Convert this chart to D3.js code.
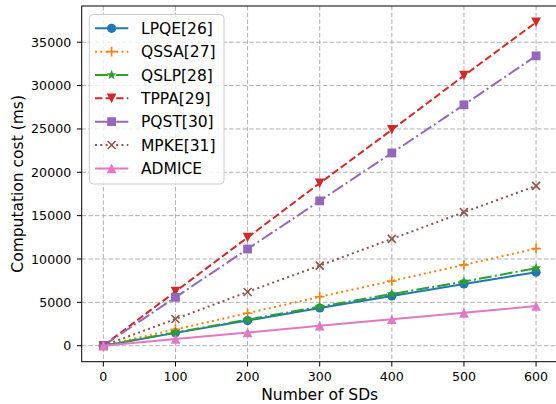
<!DOCTYPE html>
<html><head><meta charset="utf-8">
<script src="https://cdn.jsdelivr.net/npm/d3@7"></script>
<style>body{margin:0;background:#fff}svg{display:block;font-family:"DejaVu Sans",sans-serif}</style>
</head><body><svg id="c" width="556" height="404"></svg>
<script>
const xs = [0, 100, 200, 300, 400, 500, 600];
const xTicks = [0, 100, 200, 300, 400, 500, 600];
const yTicks = [0, 5000, 10000, 15000, 20000, 25000, 30000, 35000];
const names = ["LPQE[26]", "QSSA[27]", "QSLP[28]", "TPPA[29]", "PQST[30]", "MPKE[31]", "ADMICE"];
const LPQE = [0, 1480, 2900, 4350, 5730, 7120, 8480];
const QSSA = [0, 1880, 3750, 5640, 7470, 9320, 11200];
const QSLP = [0, 1530, 3000, 4500, 5960, 7400, 8940];
const TPPA = [0, 6250, 12480, 18740, 24900, 31150, 37300];
const PQST = [0, 5580, 11150, 16700, 22230, 27780, 33430];
const MPKE = [0, 3080, 6200, 9240, 12320, 15400, 18430];
const ADMICE = [0, 770, 1520, 2310, 3050, 3790, 4580];
const colors = ["#1f77b4", "#ff7f0e", "#2ca02c", "#d62728", "#9467bd", "#8c564b", "#e377c2"];
const dashes = [null, "2,3.3", "12.8,3.2,2,3.2", "7.4,3.2", "12.8,3.2,2,3.2", "2,3.3", null];
const markers = ["circle", "plus", "star", "tridown", "square", "cross", "triup"];
const series = [LPQE, QSSA, QSLP, TPPA, PQST, MPKE, ADMICE];

const svg = d3.select("#c");
const L = 81.7, R = 557.7, T = 6, B = 361.7;
const x = d3.scaleLinear().domain([-30, 630]).range([L, R]);
const y = d3.scaleLinear().domain([-1845, 39180]).range([B, T]);

// grid
const g = svg.append("g");
g.selectAll(".gx").data(xTicks).join("line")
  .attr("x1", d => x(d)).attr("x2", d => x(d)).attr("y1", T).attr("y2", B)
  .attr("stroke", "#b0b0b0").attr("stroke-width", 1).attr("stroke-dasharray", "4.5,2.2");
g.selectAll(".gy").data(yTicks).join("line")
  .attr("y1", d => y(d)).attr("y2", d => y(d)).attr("x1", L).attr("x2", R)
  .attr("stroke", "#b0b0b0").attr("stroke-width", 1).attr("stroke-dasharray", "4.5,2.2");

function marker(sel, type, color) {
  const s = 4.8;
  if (type === "circle") sel.append("circle").attr("r", 4.6).attr("fill", color);
  else if (type === "square") sel.append("rect").attr("x", -4.4).attr("y", -4.4).attr("width", 8.8).attr("height", 8.8).attr("fill", color);
  else if (type === "tridown") sel.append("path").attr("d", `M${-s},${-s}L${s},${-s}L0,${s}Z`).attr("fill", color);
  else if (type === "triup") sel.append("path").attr("d", `M${-s},${s}L${s},${s}L0,${-s}Z`).attr("fill", color);
  else if (type === "plus") sel.append("path").attr("d", `M${-s},0L${s},0M0,${-s}L0,${s}`).attr("stroke", color).attr("stroke-width", 1.6);
  else if (type === "cross") sel.append("path").attr("d", `M${-4},${-4}L${4},${4}M${-4},${4}L${4},${-4}`).attr("stroke", color).attr("stroke-width", 1.6);
  else if (type === "star") {
    const pts = [];
    for (let i = 0; i < 10; i++) {
      const r = i % 2 ? 2.3 : 5.2, a = -Math.PI / 2 + i * Math.PI / 5;
      pts.push([r * Math.cos(a), r * Math.sin(a)]);
    }
    sel.append("path").attr("d", "M" + pts.map(p => p.join(",")).join("L") + "Z").attr("fill", color);
  }
}

const line = d3.line().x((d, i) => x(xs[i])).y(d => y(d));
series.forEach((vals, k) => {
  const sg = svg.append("g");
  const p = sg.append("path").datum(vals).attr("d", line).attr("fill", "none")
    .attr("stroke", colors[k]).attr("stroke-width", 2);
  if (dashes[k]) p.attr("stroke-dasharray", dashes[k]);
  vals.forEach((v, i) => {
    const m = sg.append("g").attr("transform", `translate(${x(xs[i])},${y(v)})`);
    marker(m, markers[k], colors[k]);
  });
});

// spines
svg.append("rect").attr("x", L).attr("y", T).attr("width", R - L).attr("height", B - T)
  .attr("fill", "none").attr("stroke", "#000").attr("stroke-width", 1);

// axes ticks
const xa = svg.append("g");
xTicks.forEach(t => {
  xa.append("line").attr("x1", x(t)).attr("x2", x(t)).attr("y1", B).attr("y2", B + 4.8).attr("stroke", "#000");
  xa.append("text").attr("x", x(t)).attr("y", B + 19.2).attr("text-anchor", "middle").attr("font-size", 12.6).text(t);
});
yTicks.forEach(t => {
  xa.append("line").attr("x1", L).attr("x2", L - 4.8).attr("y1", y(t)).attr("y2", y(t)).attr("stroke", "#000");
  xa.append("text").attr("x", L - 10.5).attr("y", y(t)).attr("dy", "0.36em").attr("text-anchor", "end").attr("font-size", 12.6).text(t);
});
svg.append("text").attr("x", (L + R) / 2).attr("y", 399.5).attr("text-anchor", "middle").attr("font-size", 15.5).text("Number of SDs");
svg.append("text").attr("transform", `translate(23,${(T + B) / 2}) rotate(-90)`).attr("text-anchor", "middle").attr("font-size", 15.5).text("Computation cost (ms)");

// legend
const lg = svg.append("g");
lg.append("rect").attr("x", 89.3).attr("y", 14.5).attr("width", 134.7).attr("height", 169.5).attr("rx", 4)
  .attr("fill", "#fff").attr("fill-opacity", 0.8).attr("stroke", "#cccccc").attr("stroke-width", 1);
names.forEach((n, k) => {
  const yy = 28.3 + k * 23.35;
  const e = lg.append("g");
  const l = e.append("line").attr("x1", 95).attr("x2", 128.3).attr("y1", yy).attr("y2", yy).attr("stroke", colors[k]).attr("stroke-width", 2);
  if (dashes[k]) l.attr("stroke-dasharray", dashes[k]);
  const m = e.append("g").attr("transform", `translate(111.6,${yy})`);
  marker(m, markers[k], colors[k]);
  e.append("text").attr("x", 141).attr("y", yy).attr("dy", "0.36em").attr("font-size", 15.5).text(n);
});
</script></body></html>
